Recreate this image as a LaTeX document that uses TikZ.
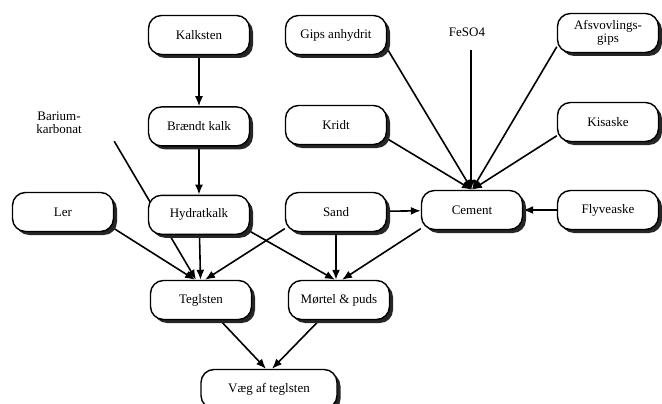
\documentclass[tikz,border=0pt]{standalone}
\usepackage{fontspec}
\setmainfont{Liberation Serif}
\usetikzlibrary{arrows.meta, positioning, shadows, backgrounds}

\begin{document}
\begin{tikzpicture}[
    x=1pt, y=-1pt,
    >={Latex[length=10pt, width=8pt]},
    matbox/.style={rectangle, rounded corners=13pt, draw=black, fill=white, line width=1.4pt,
        minimum width=101pt, minimum height=39pt, align=center, font=\fontsize{13}{13.5}\selectfont,
        drop shadow={shadow xshift=3.5pt, shadow yshift=-3.5pt, fill=black!85, opacity=1}},
    plaintxt/.style={align=center, minimum width=88pt, minimum height=36pt,
        font=\fontsize{13}{13.5}\selectfont},
    arr/.style={->, line width=1.6pt},
]
\useasboundingbox (0,0) rectangle (662,404);

\node[matbox] (kalk) at (199,35) {Kalksten};
\node[matbox, below=51pt of kalk] (braendt) {Brændt kalk};
\node[matbox, below=48pt of braendt] (hydr) {Hydratkalk};
\node[matbox] (ler) at (63,212) {Ler};
\node[matbox] (sand) at (336,212) {Sand};
\node[matbox] (cem) at (472,210) {Cement};
\node[matbox] (flyv) at (608,210) {Flyveaske};
\node[matbox] (tegl) at (201,300) {Teglsten};
\node[matbox] (mort) at (339,300) {Mørtel \& puds};
\node[matbox, minimum width=136pt] (vaeg) at (269,389) {Væg af teglsten};

\node[matbox] (gips) at (336,35) {Gips anhydrit};
\node[plaintxt] (feso) at (467,32) {FeSO4};
\node[matbox] (afsv) at (608,33) {Afsvovlings-\\gips};
\node[matbox] (kridt) at (336,125) {Kridt};
\node[matbox] (kis) at (608,122) {Kisaske};
\node[plaintxt, minimum width=110pt] (bar) at (59,123) {Barium-\\karbonat};

\begin{scope}[on background layer]
\draw[arr] (kalk) -- (braendt);
\draw[arr] (braendt) -- (hydr);
\draw[arr] (bar.south east) -- ([xshift=-5pt]tegl.north);
\draw[arr] (ler.-18) -- ([xshift=-6pt]tegl.north);
\draw[arr] (hydr) -- (tegl);
\draw[arr] (sand.198) -- ([xshift=4pt]tegl.north);
\draw[arr] (hydr.-18) -- ([xshift=-4pt]mort.north);
\draw[arr] (sand) -- (sand |- mort.north);
\draw[arr] (cem.200) -- ([xshift=3pt]mort.north);
\draw[arr] (sand) -- (cem);
\draw[arr] (flyv) -- (cem);
\draw[arr] (gips.-15) -- (cem.north);
\draw[arr] ([xshift=4pt]feso.south) -- ([xshift=4pt]feso.south |- cem.north);
\draw[arr] (afsv.195) -- (cem.north);
\draw[arr] (kridt.-15) -- (cem.north);
\draw[arr] (kis.195) -- (cem.north);
\draw[arr] (tegl) -- ([xshift=-3pt]vaeg.north);
\draw[arr] (mort) -- ([xshift=3pt]vaeg.north);
\end{scope}
\end{tikzpicture}
\end{document}
